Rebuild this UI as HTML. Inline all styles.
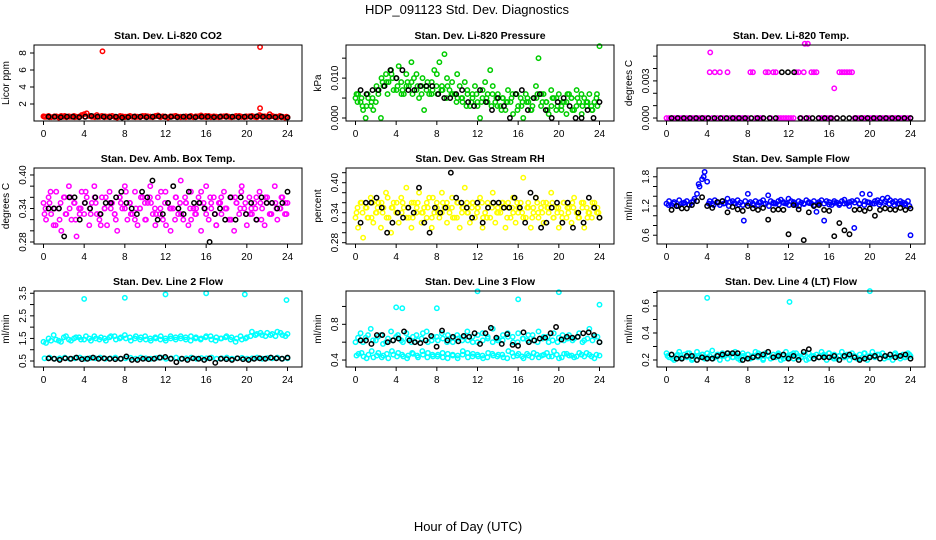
<!DOCTYPE html>
<html><head><meta charset="utf-8"><style>
html,body{margin:0;padding:0;background:#fff;}
svg{display:block;font-family:"Liberation Sans",sans-serif;}
</style></head><body>
<svg id="chart" width="936" height="540" viewBox="0 0 936 540" xmlns="http://www.w3.org/2000/svg">
<rect width="936" height="540" fill="#fff"/>
<text x="467" y="14" font-size="13" text-anchor="middle">HDP_091123  Std. Dev. Diagnostics</text>
<text x="468" y="531" font-size="13" text-anchor="middle">Hour of Day (UTC)</text>
</svg>
<script>
const xTicks=[0,4,8,12,16,20,24];
// Panel 1 CO2
const p1Color=[0.55,0.5,0.6,0.45,0.5,0.55,0.4,0.6,0.5,0.45,0.55,0.5,0.6,0.5,0.45,0.7,0.8,0.9,0.6,0.5,0.55,0.7,0.5,0.6,0.45,0.5,0.55,0.6,0.5,0.4,0.5,0.55,0.45,0.5,0.6,0.5,0.55,0.5,0.45,0.6,0.5,0.55,0.5,0.45,0.6,0.65,0.5,0.55,0.5,0.4,0.5,0.55,0.6,0.5,0.45,0.5,0.55,0.5,0.6,0.45,0.5,0.55,0.65,0.5,0.45,0.6,0.5,0.55,0.5,0.45,0.5,0.55,0.6,0.5,0.45,0.5,0.55,0.6,0.5,0.45,0.5,0.55,0.6,0.5,0.45,0.7,0.5,0.55,0.5,0.8,0.6,0.5,0.45,0.6,0.5,0.4,0.45];
const p1Color2=[0.5,0.45,0.55,0.5,0.6,0.5,0.45,0.55,0.5,0.6,0.45,0.5,0.55,0.5,0.45,0.6,0.5,0.55,0.45,0.5,0.6,0.5,0.55,0.45,0.5,0.55,0.6,0.5,0.45,0.5,0.55,0.5,0.6,0.45,0.5,0.55,0.5,0.45,0.6,0.5,0.55,0.5,0.45,0.6,0.5,0.55,0.5,0.45,0.5];
const p1Black=[0.5,0.5,0.45,0.5,0.5,0.45,0.5,0.6,0.5,0.5,0.45,0.5,0.4,0.45,0.5,0.5,0.45,0.5,0.55,0.5,0.5,0.45,0.5,0.5,0.45,0.5,0.5,0.45,0.5,0.5,0.5,0.45,0.5,0.5,0.55,0.5,0.5,0.45,0.5,0.4];
const p1OutX=[5.8,21.3,21.3];const p1OutY=[8.2,8.7,1.5];
// Panel 2 Pressure
const p2Color=[0.005,0.006,0.004,0.002,0.0,0.005,0.003,0.002,0.004,0.006,0.0,0.008,0.011,0.009,0.012,0.007,0.010,0.013,0.009,0.006,0.011,0.008,0.014,0.010,0.007,0.005,0.006,0.002,0.008,0.006,0.009,0.012,0.011,0.014,0.008,0.016,0.010,0.007,0.009,0.006,0.011,0.008,0.005,0.009,0.007,0.003,0.006,0.008,0.004,0.0,0.007,0.009,0.006,0.012,0.008,0.004,0.006,0.003,0.005,0.002,0.007,0.004,0.001,0.006,0.003,0.005,0.0,0.006,0.004,0.002,0.005,0.008,0.015,0.003,0.006,0.004,0.001,0.007,0.005,0.002,0.006,0.003,0.004,0.001,0.006,0.005,0.002,0.007,0.004,0.001,0.005,0.003,0.006,0.002,0.004,0.006,0.018];
const p2Color2=[0.004,0.003,0.006,0.005,0.007,0.009,0.006,0.010,0.008,0.007,0.009,0.006,0.008,0.010,0.009,0.007,0.006,0.007,0.008,0.006,0.005,0.004,0.006,0.005,0.003,0.005,0.004,0.006,0.003,0.005,0.004,0.006,0.002,0.004,0.005,0.003,0.006,0.004,0.002,0.005,0.003,0.004,0.006,0.002,0.005,0.003,0.004,0.002,0.003];
const p2Color3=[0.006,0.005,0.003,0.004,0.008,0.010,0.009,0.011,0.007,0.006,0.008,0.009,0.011,0.008,0.007,0.006,0.008,0.007,0.005,0.006,0.004,0.005,0.003,0.004,0.006,0.004,0.005,0.003,0.005,0.002,0.004,0.005,0.006,0.003,0.004,0.002,0.005,0.006,0.004,0.003,0.005,0.002,0.004,0.005,0.003,0.006,0.004,0.003,0.005];
const p2Black=[0.007,0.006,0.007,0.007,0.008,0.012,0.010,0.012,0.007,0.007,0.008,0.008,0.008,0.006,0.005,0.005,0.006,0.007,0.004,0.003,0.007,0.004,0.002,0.005,0.003,0.0,0.006,0.007,0.002,0.005,0.006,0.002,0.0,0.004,0.005,0.003,0.0,0.0,0.002,0.0,0.004];
// Panel 3 Temp
const p3Color=[0,0,0,0,0,0,0,0,0,0,0,0,0,0,0,0,0,0.0037,0,0.0037,0,0.0037,0,0,0.0037,0,0,0,0,0,0,0,0,0.0037,0.0037,0,0,0,0,0.0037,0.0037,0,0.0037,0.0037,0,0,0,0,0,0,0,0.0037,0.0037,0,0.0037,0,0,0.0037,0.0037,0.0037,0,0,0,0,0,0,0.0024,0,0.0037,0.0037,0.0037,0.0037,0.0037,0.0037,0,0,0,0,0,0,0,0,0,0,0,0,0,0,0,0,0,0,0,0,0,0,0];
const p3Black=[0,0,0,0,0,0,0,0,0,0,0,0,0,0,0,0,0,0,0.0037,0.0037,0.0037,0,0,0,0,0,0,0,0,0,0,0,0,0,0,0,0,0,0,0];
const p3OutX=[4.3,13.6,13.9];const p3OutY=[0.0053,0.006,0.006];
// Panel 4 Amb Box Temp
const p4Color=[0.35,0.32,0.36,0.33,0.31,0.37,0.34,0.30,0.36,0.33,0.38,0.32,0.35,0.29,0.34,0.37,0.33,0.36,0.31,0.35,0.38,0.33,0.32,0.36,0.34,0.31,0.37,0.35,0.33,0.30,0.36,0.34,0.38,0.32,0.35,0.33,0.37,0.31,0.34,0.36,0.32,0.35,0.38,0.33,0.31,0.36,0.34,0.32,0.37,0.35,0.30,0.34,0.36,0.33,0.39,0.32,0.35,0.31,0.37,0.34,0.33,0.36,0.30,0.35,0.38,0.32,0.34,0.36,0.31,0.35,0.33,0.37,0.34,0.32,0.36,0.30,0.35,0.33,0.38,0.34,0.31,0.36,0.33,0.35,0.32,0.37,0.34,0.31,0.36,0.33,0.35,0.38,0.32,0.34,0.36,0.33,0.35];
const p4Color2=[0.34,0.37,0.31,0.35,0.33,0.36,0.32,0.34,0.37,0.33,0.35,0.31,0.36,0.34,0.32,0.35,0.37,0.33,0.34,0.36,0.32,0.35,0.33,0.37,0.31,0.34,0.36,0.33,0.35,0.32,0.34,0.37,0.33,0.35,0.31,0.36,0.34,0.32,0.35,0.37,0.33,0.34,0.36,0.32,0.35,0.33,0.34,0.36,0.33];
const p4Color3=[0.33,0.35,0.34,0.32,0.36,0.34,0.35,0.33,0.35,0.34,0.36,0.33,0.34,0.35,0.33,0.36,0.34,0.35,0.32,0.34,0.35,0.36,0.34,0.33,0.35,0.34,0.32,0.35,0.36,0.34,0.33,0.35,0.34,0.36,0.33,0.35,0.34,0.32,0.36,0.34,0.35,0.33,0.34,0.35,0.36,0.33,0.35,0.34,0.35];
const p4Black=[0.34,0.34,0.34,0.29,0.36,0.36,0.32,0.35,0.34,0.36,0.33,0.35,0.35,0.36,0.37,0.35,0.34,0.33,0.37,0.36,0.39,0.32,0.33,0.35,0.38,0.34,0.33,0.37,0.35,0.35,0.34,0.28,0.33,0.34,0.32,0.36,0.32,0.36,0.33,0.35,0.32,0.36,0.35,0.35,0.34,0.35,0.37];
// Panel 5 Gas Stream RH
const p5Color=[0.33,0.31,0.36,0.29,0.35,0.33,0.37,0.32,0.34,0.36,0.31,0.35,0.38,0.33,0.30,0.36,0.34,0.32,0.37,0.35,0.39,0.33,0.31,0.36,0.34,0.38,0.32,0.35,0.33,0.37,0.31,0.34,0.36,0.33,0.38,0.35,0.32,0.34,0.37,0.33,0.36,0.31,0.35,0.39,0.34,0.32,0.36,0.33,0.35,0.37,0.31,0.34,0.36,0.33,0.38,0.32,0.35,0.34,0.36,0.31,0.35,0.33,0.37,0.32,0.34,0.36,0.41,0.33,0.35,0.31,0.34,0.37,0.33,0.35,0.32,0.36,0.34,0.38,0.33,0.35,0.31,0.34,0.36,0.33,0.35,0.32,0.37,0.34,0.33,0.36,0.31,0.35,0.34,0.33,0.36,0.34,0.33];
const p5Color2=[0.35,0.34,0.33,0.36,0.35,0.34,0.37,0.35,0.34,0.36,0.35,0.33,0.36,0.34,0.35,0.37,0.34,0.36,0.35,0.33,0.36,0.35,0.34,0.36,0.35,0.33,0.35,0.36,0.34,0.35,0.36,0.34,0.35,0.33,0.36,0.35,0.34,0.36,0.35,0.33,0.35,0.36,0.34,0.35,0.33,0.36,0.34,0.35,0.34];
const p5Color3=[0.34,0.36,0.35,0.33,0.34,0.36,0.33,0.35,0.36,0.34,0.33,0.36,0.35,0.34,0.36,0.33,0.35,0.34,0.36,0.35,0.33,0.34,0.36,0.35,0.34,0.36,0.33,0.35,0.34,0.36,0.33,0.35,0.36,0.34,0.35,0.33,0.36,0.34,0.35,0.36,0.34,0.33,0.35,0.36,0.34,0.35,0.33,0.36,0.35];
const p5Black=[0.32,0.36,0.36,0.37,0.35,0.30,0.32,0.34,0.33,0.35,0.34,0.39,0.32,0.30,0.35,0.34,0.35,0.42,0.37,0.36,0.35,0.33,0.36,0.32,0.35,0.36,0.36,0.35,0.35,0.37,0.35,0.32,0.38,0.37,0.31,0.32,0.35,0.36,0.32,0.36,0.31,0.34,0.32,0.37,0.35,0.33];
// Panel 6 Sample Flow
const p6Color=[1.25,1.3,1.22,1.28,1.2,1.32,1.25,1.27,1.3,1.22,1.28,1.35,1.45,1.6,1.75,1.9,1.7,1.3,1.25,1.32,1.28,1.22,1.3,1.26,1.35,1.28,1.3,1.25,1.32,1.27,1.22,1.3,1.45,1.28,1.25,1.3,1.22,1.28,1.32,1.25,1.42,1.3,1.27,1.25,1.3,1.33,1.28,1.25,1.35,1.3,1.28,1.22,1.3,1.27,1.25,1.32,1.28,1.25,1.3,1.08,1.28,1.32,1.25,1.3,1.28,1.22,1.3,1.27,1.25,1.3,1.33,1.25,1.28,1.3,1.27,1.32,1.25,1.45,1.3,1.28,1.44,1.25,1.3,1.32,1.28,1.35,1.3,1.37,1.32,1.28,1.3,1.25,1.3,1.27,1.25,1.3,0.6];
const p6Color2=[1.22,1.25,1.2,1.26,1.23,1.3,1.65,1.8,1.25,1.22,1.27,1.25,1.2,1.26,1.23,0.9,1.25,1.22,1.27,1.24,1.2,1.25,1.23,1.26,1.22,1.25,1.2,1.24,1.26,1.22,1.25,0.9,1.23,1.26,1.22,1.25,1.2,0.75,1.24,1.22,1.27,1.25,1.23,1.26,1.24,1.22,1.25,1.23,1.2];
const p6Black=[1.12,1.2,1.15,1.15,1.22,1.3,1.38,1.2,1.16,1.28,1.3,1.07,1.18,1.13,1.1,1.2,1.15,1.12,1.16,0.92,1.12,1.13,1.12,0.62,1.22,1.13,0.5,1.07,1.2,1.22,1.12,1.1,0.58,0.85,0.7,0.62,1.12,1.13,1.1,1.15,1.0,1.12,1.15,1.13,1.12,1.16,1.12,1.15];
// Panel 7 Line 2 Flow
const p7Upper=[1.35,1.5,1.65,1.4,1.55,1.45,1.5,1.55,1.45,1.5,1.6,1.45,1.5,1.55,1.6,1.5,1.65,1.55,1.5,1.45,1.6,1.5,1.55,1.45,1.5,1.6,1.55,1.5,1.45,1.6,1.55,1.5,1.6,1.45,1.55,1.5,1.6,1.55,1.5,1.45,1.55,1.8,1.7,1.65,1.75,1.7,1.8,1.65,1.7];
const p7Upper2=[1.3,1.4,1.45,1.35,1.6,1.4,1.55,1.45,1.6,1.4,1.5,1.55,1.4,1.6,1.45,1.55,1.5,1.4,1.6,1.55,1.45,1.4,1.5,1.6,1.4,1.5,1.45,1.6,1.55,1.4,1.5,1.45,1.55,1.6,1.4,1.5,1.55,1.45,1.35,1.6,1.5,1.6,1.65,1.75,1.6,1.65,1.6,1.75,1.6];
const p7Lower=[0.62,0.65,0.6,0.62,0.65,0.6,0.62,0.65,0.6,0.63,0.62,0.65,0.6,0.62,0.65,0.6,0.62,0.64,0.6,0.65,0.62,0.6,0.63,0.65,0.6,0.62,0.65,0.6,0.62,0.65,0.6,0.63,0.62,0.65,0.6,0.62,0.65,0.6,0.62,0.64,0.6,0.62,0.65,0.6,0.63,0.62,0.65,0.6,0.62];
const p7Black=[0.62,0.6,0.55,0.62,0.6,0.65,0.58,0.6,0.65,0.6,0.62,0.6,0.58,0.6,0.7,0.55,0.55,0.6,0.58,0.6,0.65,0.68,0.6,0.45,0.6,0.55,0.62,0.6,0.55,0.62,0.42,0.6,0.58,0.55,0.62,0.58,0.55,0.6,0.62,0.6,0.65,0.62,0.6,0.65];
const p7OutX=[4,8,12,16,19.8,23.9];const p7OutY=[3.25,3.3,3.45,3.5,3.45,3.2];
// Panel 8 Line 3 Flow
const p8Upper=[0.6,0.7,0.65,0.75,0.62,0.68,0.6,0.72,0.66,0.62,0.7,0.6,0.68,0.64,0.72,0.62,0.66,0.7,0.6,0.65,0.68,0.62,0.72,0.66,0.6,0.7,0.64,0.75,0.62,0.68,0.66,0.6,0.7,0.64,0.68,0.62,0.72,0.66,0.6,0.7,0.65,0.62,0.68,0.64,0.7,0.62,0.75,0.66,0.6];
const p8Upper2=[0.65,0.6,0.68,0.62,0.66,0.58,0.64,0.62,0.68,0.6,0.64,0.66,0.62,0.7,0.6,0.66,0.62,0.64,0.68,0.6,0.64,0.66,0.62,0.6,0.68,0.62,0.66,0.6,0.64,0.62,0.7,0.66,0.6,0.64,0.62,0.68,0.6,0.64,0.66,0.62,0.6,0.68,0.64,0.62,0.66,0.6,0.64,0.62,0.66];
const p8Lower=[0.45,0.48,0.42,0.5,0.45,0.43,0.47,0.5,0.44,0.46,0.42,0.48,0.45,0.5,0.43,0.46,0.44,0.48,0.42,0.46,0.45,0.5,0.43,0.47,0.44,0.42,0.48,0.45,0.46,0.43,0.5,0.44,0.47,0.42,0.45,0.48,0.43,0.46,0.44,0.5,0.42,0.47,0.45,0.43,0.48,0.44,0.46,0.42,0.45];
const p8Lower2=[0.47,0.44,0.46,0.43,0.48,0.45,0.42,0.46,0.48,0.44,0.45,0.47,0.43,0.46,0.48,0.44,0.46,0.43,0.47,0.45,0.42,0.46,0.48,0.44,0.46,0.45,0.43,0.47,0.44,0.46,0.42,0.48,0.45,0.44,0.47,0.43,0.46,0.45,0.48,0.44,0.46,0.43,0.47,0.45,0.44,0.46,0.48,0.44,0.46];
const p8Black=[0.62,0.62,0.58,0.68,0.68,0.6,0.62,0.64,0.72,0.62,0.6,0.59,0.62,0.67,0.55,0.73,0.62,0.66,0.61,0.67,0.66,0.7,0.58,0.7,0.76,0.65,0.58,0.69,0.57,0.56,0.71,0.6,0.62,0.64,0.65,0.7,0.77,0.63,0.66,0.65,0.66,0.7,0.71,0.68,0.6];
const p8OutX=[4,4.6,8,12,16,20,24];const p8OutY=[0.99,0.98,0.98,1.17,1.08,1.16,1.02];
// Panel 9 Line 4 Flow
const p9Color=[0.25,0.22,0.24,0.2,0.23,0.26,0.21,0.24,0.22,0.25,0.2,0.23,0.26,0.22,0.24,0.21,0.25,0.23,0.27,0.22,0.24,0.2,0.25,0.23,0.21,0.24,0.22,0.26,0.23,0.2,0.25,0.22,0.24,0.21,0.23,0.26,0.22,0.24,0.2,0.25,0.23,0.21,0.24,0.22,0.25,0.2,0.23,0.26,0.22,0.24,0.21,0.25,0.23,0.22,0.24,0.2,0.25,0.23,0.21,0.24,0.22,0.26,0.23,0.2,0.25,0.22,0.24,0.21,0.23,0.26,0.22,0.24,0.2,0.25,0.23,0.21,0.24,0.22,0.25,0.2,0.23,0.26,0.22,0.24,0.21,0.25,0.23,0.22,0.24,0.2,0.25,0.23,0.21,0.24,0.22,0.25,0.23];
const p9Color2=[0.23,0.21,0.24,0.22,0.25,0.21,0.23,0.24,0.22,0.21,0.24,0.23,0.25,0.22,0.21,0.23,0.24,0.22,0.25,0.21,0.23,0.22,0.24,0.21,0.23,0.25,0.22,0.24,0.21,0.23,0.22,0.24,0.25,0.21,0.23,0.22,0.24,0.23,0.21,0.25,0.22,0.23,0.24,0.21,0.22,0.24,0.23,0.22,0.24];
const p9Black=[0.24,0.21,0.21,0.23,0.23,0.2,0.22,0.21,0.21,0.23,0.24,0.25,0.25,0.25,0.2,0.21,0.22,0.23,0.24,0.26,0.22,0.23,0.24,0.21,0.23,0.2,0.26,0.28,0.21,0.22,0.22,0.22,0.23,0.2,0.23,0.24,0.22,0.2,0.21,0.22,0.23,0.21,0.23,0.24,0.22,0.23,0.24,0.21];
const p9OutX=[4,12.1,20];const p9OutY=[0.66,0.63,0.71];

const NS='http://www.w3.org/2000/svg';
const svg=document.getElementById('chart');
function mk(tag,attrs,parent){const e=document.createElementNS(NS,tag);for(const k in attrs)e.setAttribute(k,attrs[k]);(parent||svg).appendChild(e);return e;}
function fmt(v,d){return v.toFixed(d);}

const panels=[
 {title:'Stan. Dev. Li-820 CO2',ylab:'Licor ppm',col:0,row:0,ymin:0,ymax:8.94,ticks:[2,4,6,8],labels:[2,4,6,8],dec:0,color:'#ff0000',series:[[p1Color,0,24],[p1Color2,0.1,23.9]],black:[p1Black,0.5,24],out:[p1OutX,p1OutY]},
 {title:'Stan. Dev. Li-820 Pressure',ylab:'kPa',col:1,row:0,ymin:-0.00075,ymax:0.0183,ticks:[0,0.005,0.01,0.015],labels:[0,0.01],dec:3,color:'#00cd00',series:[[p2Color,0,24],[p2Color2,0.2,23.8],[p2Color3,0.1,23.7]],black:[p2Black,0.5,24],out:null},
 {title:'Stan. Dev. Li-820 Temp.',ylab:'degrees C',col:2,row:0,ymin:-0.00024,ymax:0.0059,ticks:[0,0.001,0.002,0.003,0.004,0.005],labels:[0,0.003],dec:3,color:'#ff00ff',series:[[p3Color,0,24]],black:[p3Black,0.5,24],out:[p3OutX,p3OutY]},
 {title:'Stan. Dev. Amb. Box Temp.',ylab:'degrees C',col:0,row:1,ymin:0.2764,ymax:0.4125,ticks:[0.28,0.30,0.32,0.34,0.36,0.38,0.40],labels:[0.28,0.34,0.40],dec:2,color:'#ff00ff',series:[[p4Color,0,24],[p4Color2,0.2,23.9],[p4Color3,0.1,23.8]],black:[p4Black,0.5,24],out:null},
 {title:'Stan. Dev. Gas Stream RH',ylab:'percent',col:1,row:1,ymin:0.2774,ymax:0.4294,ticks:[0.28,0.30,0.32,0.34,0.36,0.38,0.40,0.42],labels:[0.28,0.34,0.40],dec:2,color:'#ffff00',series:[[p5Color,0,24],[p5Color2,0.2,23.9],[p5Color3,0.1,23.8]],black:[p5Black,0.5,24],out:null},
 {title:'Stan. Dev. Sample Flow',ylab:'ml/min',col:2,row:1,ymin:0.42,ymax:1.98,ticks:[0.6,0.8,1.0,1.2,1.4,1.6,1.8],labels:[0.6,1.2,1.8],dec:1,color:'#0000ff',series:[[p6Color,0,24],[p6Color2,0.2,23.9]],black:[p6Black,0.5,24],out:null},
 {title:'Stan. Dev. Line 2 Flow',ylab:'ml/min',col:0,row:2,ymin:0.235,ymax:3.6,ticks:[0.5,1,1.5,2,2.5,3,3.5],labels:[0.5,1.5,2.5,3.5],dec:1,color:'#00ffff',series:[[p7Upper,0,24],[p7Upper2,0.25,23.8],[p7Lower,0.1,24]],black:[p7Black,0.5,24],out:[p7OutX,p7OutY]},
 {title:'Stan. Dev. Line 3 Flow',ylab:'ml/min',col:1,row:2,ymin:0.322,ymax:1.173,ticks:[0.4,0.6,0.8,1.0],labels:[0.4,0.8],dec:1,color:'#00ffff',series:[[p8Upper,0,24],[p8Upper2,0.25,23.8],[p8Lower,0.1,24],[p8Lower2,0.3,23.7]],black:[p8Black,0.5,24],out:[p8OutX,p8OutY]},
 {title:'Stan. Dev. Line 4 (LT) Flow',ylab:'ml/min',col:2,row:2,ymin:0.148,ymax:0.711,ticks:[0.2,0.3,0.4,0.5,0.6,0.7],labels:[0.2,0.4,0.6],dec:1,color:'#00ffff',series:[[p9Color,0,24],[p9Color2,0.1,23.9]],black:[p9Black,0.5,24],out:[p9OutX,p9OutY]}
];
const colLeft=[34,346,657], boxW=268, rowTop=[45,168,291], boxH=76;

panels.forEach((p,pi)=>{
 const L=colLeft[p.col], T=rowTop[p.row], R=L+boxW, B=T+boxH;
 const sx=h=>L+9.5+h*(boxW-24)/24;
 const sy=v=>B-(v-p.ymin)/(p.ymax-p.ymin)*boxH;
 const g=mk('g',{});
 
 
 const t=mk('text',{x:(L+R)/2,y:T-6,'font-size':'10.5','font-weight':'bold','text-anchor':'middle'},g);
 t.textContent=p.title;
 
 
 const yl=mk('text',{x:0,y:0,'font-size':'10','text-anchor':'middle',transform:`translate(${L-25},${(T+B)/2}) rotate(-90)`},g);
 yl.textContent=p.ylab;
 
 
 const pts=mk('g',{fill:'none','stroke-width':'1.5'},g);
 
 
 p.series.forEach(s=>{const a=s[0],x0=s[1],x1=s[2];a.forEach((v,i)=>{
   const c=mk('circle',{cx:sx(x0+i*(x1-x0)/(a.length-1)),cy:sy(v),r:2.2,stroke:p.color},pts);
   
   });});
 if(p.out){p.out[0].forEach((h,i)=>{
   const c=mk('circle',{cx:sx(h),cy:sy(p.out[1][i]),r:2.2,stroke:p.color},pts);
   
   });}
 {const a=p.black[0],x0=p.black[1],x1=p.black[2];a.forEach((v,i)=>{
   const c=mk('circle',{cx:sx(x0+i*(x1-x0)/(a.length-1)),cy:sy(v),r:2.2,stroke:'#000'},pts);
   
   });}
 const box=mk('rect',{x:L,y:T,width:boxW,height:boxH,fill:'none',stroke:'#000','stroke-width':'1'},g);
 
 
 xTicks.forEach(h=>{
   mk('line',{x1:sx(h),x2:sx(h),y1:B,y2:B+4,stroke:'#000'},g);
   const tx=mk('text',{x:sx(h),y:B+16,'font-size':'10','text-anchor':'middle'},g);
   tx.textContent=h;
   
   });
 p.ticks.forEach(v=>{mk('line',{x1:L-4,x2:L,y1:sy(v),y2:sy(v),stroke:'#000'},g);});
 p.labels.forEach(v=>{
   const tx=mk('text',{x:0,y:0,'font-size':'10','text-anchor':'middle',transform:`translate(${L-8},${sy(v)}) rotate(-90)`},g);
   tx.textContent=fmt(v,p.dec);
   
   });
});
</script>
</body></html>
